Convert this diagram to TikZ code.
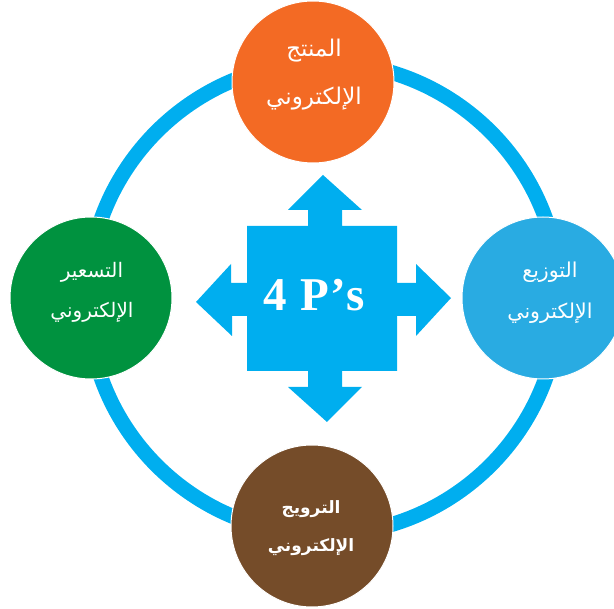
\documentclass[tikz,border=0pt]{standalone}
\usepackage{fontspec}
\setmainfont{Liberation Serif}
\newfontfamily\arabicfont[Script=Arabic]{DejaVu Sans}
\newfontfamily\titlefont[LetterSpace=4]{Liberation Serif}
\TeXXeTstate=1
\definecolor{ringblue}{HTML}{00AEEF}
\definecolor{orangeP}{HTML}{F36A24}
\definecolor{skyP}{HTML}{29ABE2}
\definecolor{greenP}{HTML}{00923F}
\definecolor{brownP}{HTML}{754C29}
\tikzset{
  pcircle/.style={circle,minimum size=162pt,inner sep=0pt,outer sep=0pt,draw=white,line width=1pt},
  ptext/.style={text=white,align=center,inner sep=0pt},
}
\begin{document}
\begin{tikzpicture}[x=1pt,y=-1pt]
\clip (0,0) rectangle (614,609);
% ring
\draw[ringblue,line width=15pt] (323.5,298.5) circle [radius=236];
% cross of four arrows
\fill[ringblue] (247,226) -- (308,226) -- (308,210) -- (288,210) -- (323,175) -- (362,210) -- (342,210) -- (342,226)
  -- (397,226) -- (397,283) -- (416,283) -- (416,264) -- (451,298) -- (416,336) -- (416,316) -- (397,316)
  -- (397,371) -- (342,371) -- (342,387) -- (362,387) -- (327,422) -- (288,387) -- (308,387) -- (308,371)
  -- (247,371) -- (247,316) -- (232,316) -- (232,336) -- (196,302) -- (231,264) -- (231,283) -- (247,283) -- cycle;
\node[text=white,inner sep=0pt,font=\titlefont\bfseries\fontsize{47}{47}\selectfont] (title) at (314,295) {4 P’s};
% circles
\node[pcircle,fill=orangeP] (top) at (313,82) {};
\node[pcircle,fill=skyP] (right) at (543,298) {};
\node[pcircle,fill=greenP] (left) at (91,298) {};
\node[pcircle,fill=brownP] (bottom) at (312,526) {};
% labels
\node[ptext,font=\arabicfont\fontsize{23}{48}\selectfont] (toplabel) at (314,75) {\beginR المنتج\endR\\\beginR الإلكتروني\endR};
\node[ptext,font=\arabicfont\fontsize{20.5}{41}\selectfont] (rightlabel) at (550,293) {\beginR التوزيع\endR\\\beginR الإلكتروني\endR};
\node[ptext,font=\arabicfont\fontsize{20}{40}\selectfont] (leftlabel) at (92,292) {\beginR التسعير\endR\\\beginR الإلكتروني\endR};
\node[ptext,font=\arabicfont\bfseries\fontsize{17}{38}\selectfont] (bottomlabel) at (311,528) {\beginR الترويج\endR\\\beginR الإلكتروني\endR};
\end{tikzpicture}
\end{document}
